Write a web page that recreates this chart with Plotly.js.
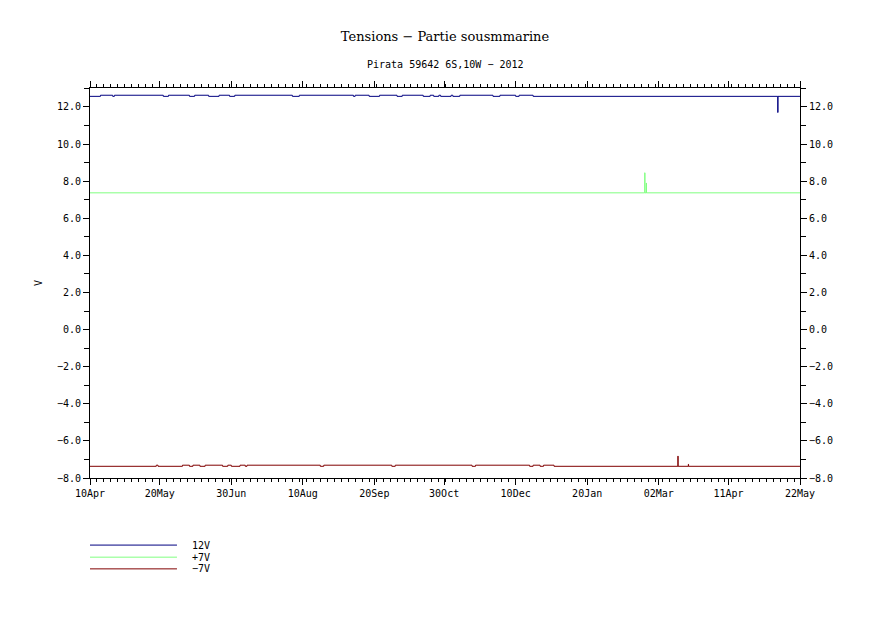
<!DOCTYPE html>
<html>
<head>
<meta charset="utf-8">
<script src="https://cdn.plot.ly/plotly-3.0.1.min.js"></script>
<style>html,body{margin:0;padding:0;background:#fff;}#chart{width:891px;height:630px;}</style>
</head>
<body>
<div id="chart"></div>
<script>
// ---- Data ----
const xStart = '2012-04-10';
const xEnd = '2013-05-22';

const tickDates = ['2012-04-10','2012-05-20','2012-06-30','2012-08-10','2012-09-20','2012-10-30','2012-12-10','2013-01-20','2013-03-02','2013-04-11','2013-05-22'];
const tickLabels = ['10Apr','20May','30Jun','10Aug','20Sep','30Oct','10Dec','20Jan','02Mar','11Apr','22May'];

const seriesNames = ['12V','+7V','\u22127V'];
const seriesColors = ['#000080','#80ff80','#800000'];

// 12V : baseline, slightly higher periods, one dip
const base12 = 12.57;
const high12 = 12.63;
const high12Periods = [
  ['2012-04-16','2012-04-23'],['2012-04-24','2012-05-22'],['2012-05-25','2012-06-06'],
  ['2012-06-09','2012-06-17'],['2012-06-23','2012-06-29'],['2012-07-02','2012-08-04'],
  ['2012-08-08','2012-09-08'],['2012-09-09','2012-09-17'],['2012-09-23','2012-10-03'],
  ['2012-10-06','2012-10-18'],['2012-10-22','2012-10-24'],['2012-10-27','2012-10-28'],
  ['2012-11-03','2012-11-04'],['2012-11-08','2012-11-27'],['2012-12-01','2012-12-10'],
  ['2012-12-12','2012-12-20']
];
const spike12T = ['2013-05-09 06:00','2013-05-09 09:00'];
const spike12V = [11.70, 12.57];

// +7V : baseline and two spikes
const base7p = 7.37;
const high7pPeriods = [];
const spike7pT = ['2013-02-22 00:00','2013-02-22 03:00','2013-02-22 21:00','2013-02-23 00:00'];
const spike7pV = [8.45, 7.37, 7.90, 7.37];

// -7V : baseline, slightly higher periods, two spikes
const base7m = -7.37;
const high7m = -7.31;
const high7mPeriods = [
  ['2012-05-18','2012-05-19'],['2012-06-02','2012-06-06'],['2012-06-08','2012-06-12'],
  ['2012-06-15','2012-06-25'],['2012-06-28','2012-06-30'],['2012-07-05','2012-07-08'],
  ['2012-07-09','2012-08-20'],['2012-08-22','2012-09-30'],['2012-10-02','2012-11-15'],
  ['2012-11-17','2012-12-18'],['2012-12-20','2012-12-24'],['2012-12-26','2013-01-01']
];
const spike7mT = ['2013-03-13 00:00','2013-03-13 03:00','2013-03-19 00:00','2013-03-19 03:00'];
const spike7mV = [-6.82, -7.37, -7.26, -7.37];

// ---- Build step series from the arrays above ----
function build(base, high, periods, spT, spV) {
  const pts = [[xStart, base]];
  periods.forEach(p => { pts.push([p[0], high]); pts.push([p[1], base]); });
  spT.forEach((t, i) => pts.push([t, spV[i]]));
  pts.push([xEnd, base]);
  pts.sort((a, b) => new Date(a[0].replace(' ', 'T')) - new Date(b[0].replace(' ', 'T')));
  return {x: pts.map(p => p[0]), y: pts.map(p => p[1])};
}

const s12 = build(base12, high12, high12Periods, spike12T, spike12V);
const s7p = build(base7p, base7p, high7pPeriods, spike7pT, spike7pV);
const s7m = build(base7m, high7m, high7mPeriods, spike7mT, spike7mV);
const all = [s12, s7p, s7m];

const traces = all.map((s, i) => ({
  type: 'scatter', mode: 'lines', x: s.x, y: s.y, name: seriesNames[i],
  line: {color: seriesColors[i], width: 1, shape: 'hv'}, showlegend: false,
  hoverinfo: 'skip'
}));
// invisible trace to activate the right-hand axis
traces.push({type:'scatter', mode:'lines', x:[xStart], y:[0], yaxis:'y2', showlegend:false, line:{width:0}, hoverinfo:'skip'});

const mono = 'DejaVu Sans Mono, monospace';
const yRange = [-8, 13.02];
const yCommon = {
  range: yRange, tickmode: 'linear', tick0: 0, dtick: 2, tickformat: '.1f',
  ticks: 'outside', ticklen: 6, tickwidth: 1, tickcolor: '#000',
  showline: true, linecolor: '#000', linewidth: 1, showgrid: false, zeroline: false,
  tickfont: {family: mono, size: 10, color: '#000'},
  minor: {ticks: 'outside', ticklen: 5, tickmode: 'linear', tick0: 0, dtick: 1, tickcolor: '#000', showgrid: false},
  fixedrange: true
};

// legend drawn under the plot (lines + labels)
const legY = [-0.172, -0.203, -0.233];
const shapes = [], annotations = [];
seriesNames.forEach((n, i) => {
  shapes.push({type:'line', xref:'paper', yref:'paper', x0:0, x1:0.1225, y0:legY[i], y1:legY[i], line:{color:seriesColors[i], width:1}});
  annotations.push({xref:'paper', yref:'paper', x:0.141, y:legY[i], xanchor:'left', yanchor:'middle', text:n, showarrow:false, font:{family:mono, size:10, color:'#000'}});
});
annotations.push({xref:'paper', yref:'paper', x:0.5, y:1.0614, xanchor:'center', yanchor:'middle', text:'Pirata 59642 6S,10W \u2212 2012', showarrow:false, font:{family:mono, size:10, color:'#000'}});

const layout = {
  width: 891, height: 630,
  margin: {l: 90, r: 91, t: 88, b: 152},
  paper_bgcolor: '#fff', plot_bgcolor: '#fff',
  title: {text: 'Tensions \u2212 Partie sousmmarine', font: {family: 'DejaVu Serif, serif', size: 13, color: '#000'},
          x: 0.5, xref: 'paper', xanchor: 'center', y: 1 - 36/630, yref: 'container', yanchor: 'middle'},
  xaxis: {
    type: 'date', range: [xStart, xEnd], tickmode: 'array', tickvals: tickDates, ticktext: tickLabels,
    ticks: 'outside', ticklen: 6, tickwidth: 1, tickcolor: '#000',
    showline: true, linecolor: '#000', linewidth: 1, mirror: 'ticks', showgrid: false, zeroline: false,
    tickfont: {family: mono, size: 10, color: '#000'},
    minor: {ticks: 'outside', ticklen: 3, tickmode: 'linear', tick0: xStart, dtick: 4*86400000, tickcolor: '#000', showgrid: false},
    fixedrange: true
  },
  yaxis: Object.assign({}, yCommon, {side: 'left', title: {text: 'V', font: {family: mono, size: 10, color: '#000'}, standoff: 12}}),
  yaxis2: Object.assign({}, yCommon, {side: 'right', overlaying: 'y'}),
  shapes: shapes,
  annotations: annotations
};

Plotly.newPlot('chart', traces, layout, {displayModeBar: false, staticPlot: true});
</script>
</body>
</html>
